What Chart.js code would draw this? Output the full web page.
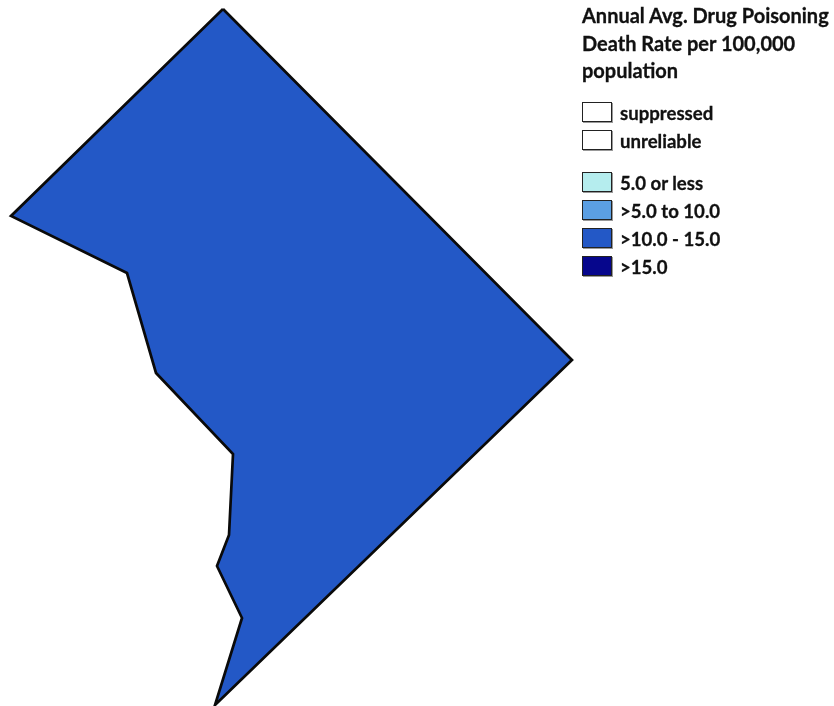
<!DOCTYPE html>
<html>
<head>
<meta charset="utf-8">
<title>Annual Avg. Drug Poisoning Death Rate</title>
<script src="https://cdn.jsdelivr.net/npm/chart.js@4/dist/chart.umd.min.js"></script>
<style>
  html, body { margin:0; padding:0; background:#fff; }
  #wrap { position:relative; width:834px; height:706px; overflow:hidden; }
  #map { position:absolute; left:0; top:0; }
  #legendTitle { position:absolute; left:582px; top:2px; font:bold 20px/27.5px Lato, sans-serif; color:#111; white-space:nowrap; -webkit-text-stroke:0.3px #111; }
  .row { position:absolute; left:582px; height:20px; font:bold 18.6px/20px Lato, sans-serif; color:#111; white-space:nowrap; -webkit-text-stroke:0.3px #111; }
  .row i { position:absolute; left:0; top:0; width:28px; height:18px; border:1px solid #222; box-shadow:1px 1px 0 #999; }
  .row span { position:absolute; left:38px; top:1px; }
</style>
</head>
<body>
<div id="wrap">
  <canvas id="map" width="834" height="706"></canvas>
  <div id="legendTitle"></div>
  <div id="legend"></div>
</div>
<script>
// outline of the district, in map units
var outlineX = [223, 572, 215, 242, 217, 229, 233, 156, 127, 11, 223];
var outlineY = [9, 360, 705, 618, 566, 535, 454, 373, 273, 216, 9];
var rateClass = '>10.0 - 15.0';

var titleLines   = ['Annual Avg. Drug Poisoning', 'Death Rate per 100,000', 'population'];
var legendLabels = ['suppressed', 'unreliable', '5.0 or less', '>5.0 to 10.0', '>10.0 - 15.0', '>15.0'];
var legendColors = ['#ffffff', '#ffffff', '#b5edee', '#5b9fe3', '#2358c6', '#06068c'];
var legendTops   = [102, 130, 172, 200, 228, 256];

document.getElementById('legendTitle').innerHTML = titleLines.join('<br>');

var legendEl = document.getElementById('legend');
legendLabels.forEach(function(label, i) {
  var row = document.createElement('div');
  row.className = 'row';
  row.style.top = legendTops[i] + 'px';
  var box = document.createElement('i');
  box.style.background = legendColors[i];
  var txt = document.createElement('span');
  txt.textContent = label;
  row.appendChild(box);
  row.appendChild(txt);
  legendEl.appendChild(row);
});

new Chart(document.getElementById('map').getContext('2d'), {
  type: 'scatter',
  data: {
    datasets: [{
      label: 'District of Columbia',
      data: outlineX.map(function(x, i) { return { x:x, y:outlineY[i] }; }),
      showLine: true,
      fill: 'shape',
      tension: 0,
      pointRadius: 0,
      borderColor: '#0a0a0a',
      borderWidth: 2.7,
      borderJoinStyle: 'miter',
      backgroundColor: legendColors[legendLabels.indexOf(rateClass)],
      clip: false
    }]
  },
  options: {
    responsive: false,
    animation: false,
    layout: { padding: 0 },
    plugins: { legend: { display:false }, tooltip: { enabled:false } },
    scales: {
      x: { display:false, min:0, max:834 },
      y: { display:false, min:0, max:706, reverse:true }
    }
  }
});
</script>
</body>
</html>
